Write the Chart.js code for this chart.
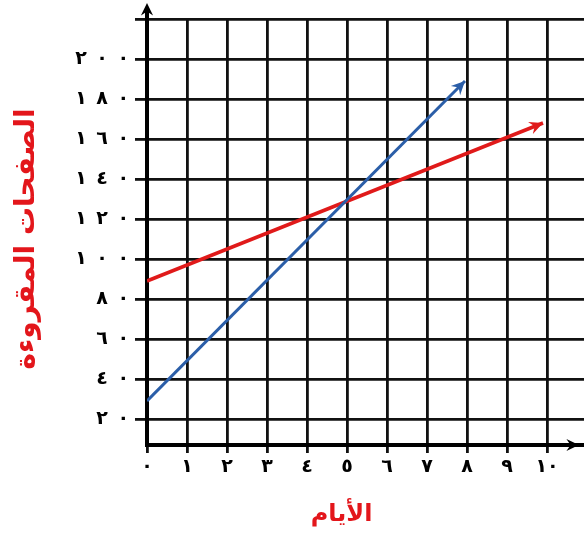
<!DOCTYPE html>
<html>
<head>
<meta charset="utf-8">
<script src="https://cdn.jsdelivr.net/npm/chart.js@4.4.0/dist/chart.umd.min.js"></script>
<style>
  html, body { margin: 0; padding: 0; background: #fff; }
  #wrap { width: 584px; height: 537px; }
</style>
</head>
<body>
<div id="wrap"><canvas id="c"></canvas></div>
<script>
// days on the x axis
const dayTicks = [0, 1, 2, 3, 4, 5, 6, 7, 8, 9, 10];
const dayLabels = ['٠', '١', '٢', '٣', '٤', '٥', '٦', '٧', '٨', '٩', '١٠'];

// pages read on the y axis (220 is the top grid line, no label)
const pageTicks = [20, 40, 60, 80, 100, 120, 140, 160, 180, 200, 220];
const pageLabels = ['٢٠', '٤٠', '٦٠', '٨٠', '١٠٠', '١٢٠', '١٤٠', '١٦٠', '١٨٠', '٢٠٠', ''];

// the two lines, start and arrow tip
const blueDays = [0, 7.95];
const blueValues = [29, 189];
const redDays = [0, 9.9];
const redValues = [89, 168];

// force left-to-right order and spread the digits out a bit
const spaced = (s, gap) => s ? '\u202D' + s.split('').join(gap) + '\u202C' : '';

const arrows = {
  id: 'arrows',
  afterDatasetsDraw(chart) {
    const ctx = chart.ctx;
    const area = chart.chartArea;
    const head = (x, y, ang, len, color, w) => {
      ctx.save();
      ctx.strokeStyle = color;
      ctx.fillStyle = color;
      ctx.lineWidth = w;
      ctx.beginPath();
      ctx.moveTo(x, y);
      ctx.lineTo(x - len * Math.cos(ang - 0.45), y - len * Math.sin(ang - 0.45));
      ctx.lineTo(x - len * 0.6 * Math.cos(ang), y - len * 0.6 * Math.sin(ang));
      ctx.lineTo(x - len * Math.cos(ang + 0.45), y - len * Math.sin(ang + 0.45));
      ctx.closePath();
      ctx.fill();
      ctx.restore();
    };
    chart.data.datasets.forEach((ds, i) => {
      const pts = chart.getDatasetMeta(i).data;
      const a = pts[pts.length - 2], b = pts[pts.length - 1];
      head(b.x, b.y, Math.atan2(b.y - a.y, b.x - a.x), 15, ds.borderColor, 2);
    });
    // axis arrows
    const x0 = chart.scales.x.getPixelForValue(0);
    ctx.save();
    ctx.strokeStyle = '#000';
    ctx.lineWidth = 4;
    ctx.beginPath();
    ctx.moveTo(x0, area.top);
    ctx.lineTo(x0, 8);
    ctx.stroke();
    ctx.restore();
    head(x0, 3, -Math.PI / 2, 14, '#000', 2);
    head(579, area.bottom, 0, 14, '#000', 2);
  }
};

new Chart(document.getElementById('c'), {
  type: 'line',
  data: {
    datasets: [
      {
        data: blueDays.map((d, i) => ({ x: d, y: blueValues[i] })),
        borderColor: '#2b5ea8',
        borderWidth: 3,
        pointRadius: 0,
        fill: false
      },
      {
        data: redDays.map((d, i) => ({ x: d, y: redValues[i] })),
        borderColor: '#e01a1a',
        borderWidth: 3.5,
        pointRadius: 0,
        fill: false
      }
    ]
  },
  options: {
    responsive: true,
    maintainAspectRatio: false,
    animation: false,
    layout: { padding: { top: 19, right: 0, bottom: 0, left: 0 } },
    plugins: { legend: { display: false }, tooltip: { enabled: false } },
    scales: {
      x: {
        type: 'linear',
        min: 0,
        max: 10.925,
        afterBuildTicks: s => { s.ticks = dayTicks.map(v => ({ value: v })); },
        afterFit: s => { s.height = 92; },
        grid: { color: '#111', lineWidth: 2.8, tickLength: 8 },
        border: { color: '#000', width: 4 },
        ticks: {
          callback: (v, i) => spaced(dayLabels[i], ''),
          color: '#000',
          font: { family: 'DejaVu Sans', weight: 'bold', size: 19 },
          padding: 3,
          maxRotation: 0,
          autoSkip: false
        },
        title: {
          display: true,
          text: 'الأيام\u2003\u2003',
          color: '#e3161b',
          font: { family: 'DejaVu Sans', weight: 'bold', size: 24 },
          padding: { top: 0, bottom: 8 }
        }
      },
      y: {
        min: 7,
        max: 220,
        afterBuildTicks: s => { s.ticks = pageTicks.map(v => ({ value: v })); },
        afterFit: s => { s.width = 147; },
        grid: { color: '#111', lineWidth: 2.8, tickLength: 12 },
        border: { color: '#000', width: 4 },
        ticks: {
          callback: (v, i) => spaced(pageLabels[i], '\u2002'),
          color: '#000',
          font: { family: 'DejaVu Sans', weight: 'bold', size: 19 },
          padding: 6,
          autoSkip: false
        },
        title: {
          display: true,
          text: 'الصفحات المقروءة\u2002',
          color: '#e3161b',
          font: { family: 'DejaVu Sans', weight: 'bold', size: 28 },
          padding: { top: 10, bottom: 0 }
        }
      }
    }
  },
  plugins: [arrows]
});
</script>
</body>
</html>
